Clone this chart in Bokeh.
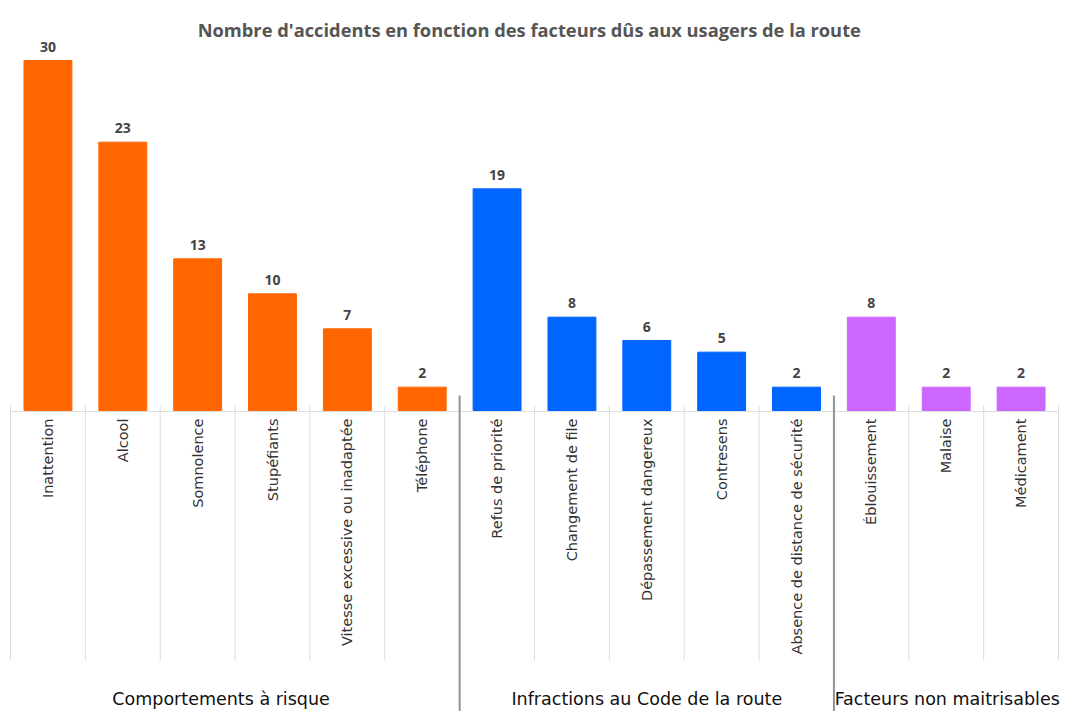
import math
from bokeh.plotting import figure
from bokeh.models import Range1d, ColumnDataSource
from bokeh.core.properties import value
from bokeh.embed import file_html
from bokeh.resources import INLINE

title = "Nombre d'accidents en fonction des facteurs dûs aux usagers de la route"
groups = ["Comportements à risque", "Infractions au Code de la route", "Facteurs non maitrisables"]
group_colors = ["#FF6600", "#0066FF", "#CC66FF"]
categories = [
    ["Inattention", "Alcool", "Somnolence", "Stupéfiants", "Vitesse excessive ou inadaptée", "Téléphone"],
    ["Refus de priorité", "Changement de file", "Dépassement dangereux", "Contresens", "Absence de distance de sécurité"],
    ["Éblouissement", "Malaise", "Médicament"],
]
values = [
    [30, 23, 13, 10, 7, 2],
    [19, 8, 6, 5, 2],
    [8, 2, 2],
]

W, H = 1065, 711
# pixel geometry of the plot area
px_left, px_right = 10, 1058
px_base, px_top_val = 410, 60
n = sum(len(c) for c in categories)
sx = (px_right - px_left) / n
sy = (px_base - px_top_val) / max(values[0])

def X(px):
    return (px - px_left) / sx

def Y(py):
    return (px_base - py) / sy

p = figure(width=W, height=H, output_backend="svg", toolbar_location=None,
           x_range=Range1d(X(0), X(W)), y_range=Range1d(Y(H), Y(0)),
           min_border=0, outline_line_color=None)
p.axis.visible = False
p.grid.visible = False
p.background_fill_color = "white"
p.border_fill_color = "white"

xs, tops, cols, labs = [], [], [], []
i = 0
starts = []
for g, (cats, vals) in enumerate(zip(categories, values)):
    starts.append(i)
    for c, v in zip(cats, vals):
        xs.append(i + 0.5)
        tops.append(v)
        cols.append(group_colors[g])
        labs.append(c)
        i += 1
starts.append(i)

src = ColumnDataSource(dict(x=xs, top=tops, color=cols, lab=labs,
                            val=[str(v) for v in tops], ly=[Y(418)] * n))

# light grid lines at category boundaries (not group separators)
grid_x = [k for k in range(n + 1) if k not in starts[1:-1]]
p.segment(x0=grid_x, y0=[Y(405)] * len(grid_x), x1=grid_x, y1=[Y(660)] * len(grid_x),
          line_color="#dddddd", line_width=1)
# baseline
p.segment(x0=[0], y0=[Y(411)], x1=[n], y1=[Y(411)], line_color="#dddddd", line_width=1)
# group separators
sep = starts[1:-1]
p.segment(x0=sep, y0=[Y(395)] * len(sep), x1=sep, y1=[Y(H)] * len(sep),
          line_color="#8d939c", line_width=2)

p.vbar(x="x", top="top", bottom=0, width=0.64, color="color", source=src)

p.text(x="x", y="top", text="val", source=src, y_offset=-9,
       text_align="center", text_baseline="bottom", text_font=value("Open Sans"),
       text_font_size="14px", text_font_style="bold", text_color="#444444")

p.text(x="x", y="ly", text="lab", source=src, angle=math.pi / 2,
       text_align="right", text_baseline="middle", text_font=value("DejaVu Sans"),
       text_font_size="14.5px", text_color="#333333")

group_shift_px = [-14, 0, 1]
gx = [(starts[k] + starts[k + 1]) / 2 + group_shift_px[k] / sx for k in range(len(groups))]
p.text(x=gx, y=[Y(698)] * len(groups), text=groups, text_align="center",
       text_baseline="middle", text_font=value("DejaVu Sans"), text_font_size="17.5px",
       text_color="#111111")

p.text(x=[n / 2 - 0.07], y=[Y(29)], text=[title], text_align="center",
       text_baseline="middle", text_font=value("Open Sans"), text_font_size="18.3px",
       text_font_style="bold", text_color="#555555")

open("out.html", "w").write(file_html(p, INLINE))
